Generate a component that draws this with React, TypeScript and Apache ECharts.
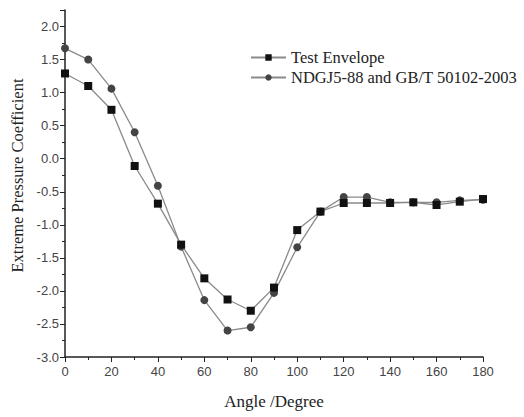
import React, { useEffect, useRef } from "react";
import * as echarts from "echarts";

const angles = [0, 10, 20, 30, 40, 50, 60, 70, 80, 90, 100, 110, 120, 130, 140, 150, 160, 170, 180];
const testEnvelope = [1.29, 1.1, 0.74, -0.11, -0.68, -1.3, -1.81, -2.13, -2.3, -1.95, -1.08, -0.8, -0.67, -0.67, -0.67, -0.66, -0.7, -0.65, -0.61];
const codeValues = [1.67, 1.5, 1.06, 0.4, -0.41, -1.33, -2.14, -2.6, -2.55, -2.03, -1.34, -0.8, -0.58, -0.58, -0.66, -0.66, -0.66, -0.63, -0.62];
const seriesNames = ["Test Envelope", "NDGJ5-88 and GB/T 50102-2003"];

export default function App() {
  const ref = useRef<HTMLDivElement>(null);
  useEffect(() => {
    if (!ref.current) return;
    const chart = echarts.init(ref.current, undefined, { renderer: "svg" });
    const serif = "'Liberation Serif', 'Times New Roman', serif";
    const sans = "'Liberation Sans', Arial, sans-serif";
    const lineColor = "#8a8a8a";
    chart.setOption({
      animation: false,
      backgroundColor: "#fff",
      grid: { left: 65, right: 41, top: 10, bottom: 60, containLabel: false, outerBoundsMode: "none" },
      legend: {
        orient: "vertical",
        left: 245,
        top: 44,
        itemGap: 3,
        itemWidth: 35,
        itemHeight: 8,
        textStyle: { fontFamily: serif, fontSize: 16.5, color: "#222" },
        data: seriesNames,
      },
      xAxis: {
        type: "value",
        min: 0,
        max: 180,
        interval: 20,
        name: "Angle /Degree",
        nameLocation: "middle",
        nameGap: 36,
        nameTextStyle: { fontFamily: serif, fontSize: 17, color: "#222" },
        axisLine: { onZero: false, lineStyle: { color: "#222", width: 1.5 } },
        axisTick: { inside: false, length: 5, lineStyle: { color: "#222" } },
        minorTick: { show: true, splitNumber: 2, length: 3, lineStyle: { color: "#222" } },
        axisLabel: { fontFamily: sans, fontSize: 13, color: "#444", margin: 8 },
        splitLine: { show: false },
      },
      yAxis: {
        type: "value",
        min: -3,
        max: 2.25,
        interval: 0.5,
        name: "Extreme Pressure Coefficient",
        nameLocation: "middle",
        nameGap: 38,
        nameTextStyle: { fontFamily: serif, fontSize: 16.5, color: "#222", padding: [0, 0, 0, 16] },
        axisLine: { show: true, onZero: false, lineStyle: { color: "#222", width: 1.5 } },
        axisTick: { show: true, inside: false, length: 5, lineStyle: { color: "#222" } },
        minorTick: { show: true, splitNumber: 2, length: 3, lineStyle: { color: "#222" } },
        axisLabel: {
          fontFamily: sans,
          fontSize: 13,
          color: "#444",
          margin: 6,
          formatter: (v: number) => (Math.abs(v * 2 - Math.round(v * 2)) < 1e-6 ? v.toFixed(1) : ""),
        },
        splitLine: { show: false },
      },
      series: [
        {
          name: seriesNames[0],
          type: "line",
          data: angles.map((a, i) => [a, testEnvelope[i]]),
          symbol: "rect",
          symbolSize: 8,
          itemStyle: { color: "#111" },
          lineStyle: { color: lineColor, width: 1.3 },
          z: 3,
        },
        {
          name: seriesNames[1],
          type: "line",
          data: angles.map((a, i) => [a, codeValues[i]]),
          symbol: "circle",
          symbolSize: 8,
          itemStyle: { color: "#444" },
          lineStyle: { color: lineColor, width: 1.3 },
          z: 2,
        },
      ],
    });
    return () => chart.dispose();
  }, []);
  return <div ref={ref} style={{ width: 524, height: 417, position: "absolute", left: 0, top: 0 }} />;
}
